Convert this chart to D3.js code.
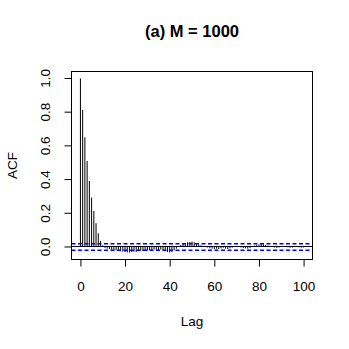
<!DOCTYPE html>
<html><head><meta charset="utf-8">
<script src="https://cdn.jsdelivr.net/npm/d3@7"></script>
<style>body{margin:0;background:#fff}svg{display:block}text{font-family:"Liberation Sans",Arial,sans-serif}</style>
</head><body>
<script>
const title = "(a) M = 1000";
const xLabel = "Lag";
const yLabel = "ACF";
const xTicks = [0, 20, 40, 60, 80, 100];
const yTicks = [0.0, 0.2, 0.4, 0.6, 0.8, 1.0];
const confLimit = 0.0196;
const acfValues = [1, 0.813, 0.651, 0.51, 0.392, 0.293, 0.214, 0.141, 0.081, 0.036, 0.01,
 -0.005, -0.01, -0.012, -0.015, -0.018, -0.02, -0.022, -0.025, -0.028, -0.03,
 -0.032, -0.033, -0.03, -0.028, -0.03, -0.025, -0.022, -0.025, -0.02, -0.022,
 -0.018, -0.02, -0.015, -0.018, -0.02, -0.015, -0.02, -0.025, -0.03, -0.033,
 -0.03, -0.02, -0.01, 0.005, 0.012, 0.018, 0.022, 0.028, 0.03, 0.032,
 0.028, 0.022, 0.015, 0.01, 0.005, 0.002, -0.003, -0.008, -0.01, -0.012,
 -0.01, -0.012, -0.008, -0.005, -0.01, -0.012, -0.008, -0.004, 0.003, 0.005,
 0.002, -0.003, -0.006, -0.008, -0.01, -0.006, 0.003, 0.008, 0.012, 0.015,
 0.018, 0.015, 0.012, 0.008, 0.005, 0.002, -0.003, -0.005, -0.003, 0.002,
 0.004, 0.003, -0.002, -0.004, -0.003, 0.001, 0.002, -0.002, -0.004, -0.003];

const W = 349, H = 349;
const box = {l: 71.5, r: 312.5, t: 71.5, b: 259.5};
const svg = d3.select("body").append("svg").attr("width", W).attr("height", H);
const x = d3.scaleLinear().domain([-4, 104]).range([box.l, box.r]);
const lo = Math.min(d3.min(acfValues), -confLimit), hi = Math.max(d3.max(acfValues), confLimit);
const pad = 0.04 * (hi - lo);
const y = d3.scaleLinear().domain([lo - pad, hi + pad]).range([box.b, box.t]);
const snap = v => Math.round(v - 0.5) + 0.5;

// bars
svg.append("g").selectAll("line").data(acfValues).join("line")
  .attr("x1", (d, i) => x(i)).attr("x2", (d, i) => x(i))
  .attr("y1", y(0)).attr("y2", d => y(d))
  .attr("stroke", "#000").attr("stroke-width", 1);

// zero line
svg.append("line").attr("x1", box.l).attr("x2", box.r)
  .attr("y1", snap(y(0))).attr("y2", snap(y(0))).attr("stroke", "#000").attr("stroke-width", 1);

// confidence lines
[confLimit, -confLimit].forEach(c => {
  svg.append("line").attr("x1", box.l).attr("x2", box.r)
    .attr("y1", y(c)).attr("y2", y(c)).attr("stroke", "#0000ff")
    .attr("stroke-width", 1.5).attr("stroke-dasharray", "4,2.5");
});

// box
svg.append("rect").attr("x", box.l).attr("y", box.t)
  .attr("width", box.r - box.l).attr("height", box.b - box.t)
  .attr("fill", "none").attr("stroke", "#000").attr("stroke-width", 1);

// x axis
const xAxis = d3.axisBottom(x).tickValues(xTicks).tickSize(7).tickPadding(15).tickFormat(d3.format("d"));
const gx = svg.append("g").attr("transform", `translate(0,${box.b})`).call(xAxis);
gx.select(".domain").attr("d", `M${x(0)},0H${x(100)}`);
gx.selectAll("text").attr("font-size", 13.5).attr("fill", "#000").attr("font-family", "Liberation Sans, Arial, sans-serif");

// y axis
const yAxis = d3.axisLeft(y).tickValues(yTicks).tickSize(7).tickFormat(d3.format(".1f"));
const gy = svg.append("g").attr("transform", `translate(${box.l},0)`).call(yAxis);
gy.select(".domain").attr("d", `M0,${y(0)}V${y(1)}`);
gy.selectAll(".tick").attr("transform", null);
gy.selectAll(".tick line").attr("y1", d => y(d)).attr("y2", d => y(d));
gy.selectAll("text").attr("font-size", 13.5).attr("fill", "#000")
  .attr("font-family", "Liberation Sans, Arial, sans-serif")
  .attr("transform", "rotate(-90)")
  .attr("x", d => -y(d)).attr("y", -21.5).attr("dy", null).attr("text-anchor", "middle");

// labels
svg.append("text").attr("x", (box.l + box.r) / 2).attr("y", 37)
  .attr("text-anchor", "middle").attr("font-size", 16.5).attr("font-weight", "bold").text(title);
svg.append("text").attr("x", (box.l + box.r) / 2).attr("y", 326)
  .attr("text-anchor", "middle").attr("font-size", 13.5).text(xLabel);
svg.append("text").attr("transform", `translate(17,${(box.t + box.b) / 2}) rotate(-90)`)
  .attr("text-anchor", "middle").attr("font-size", 13.5).text(yLabel);
</script>
</body></html>
